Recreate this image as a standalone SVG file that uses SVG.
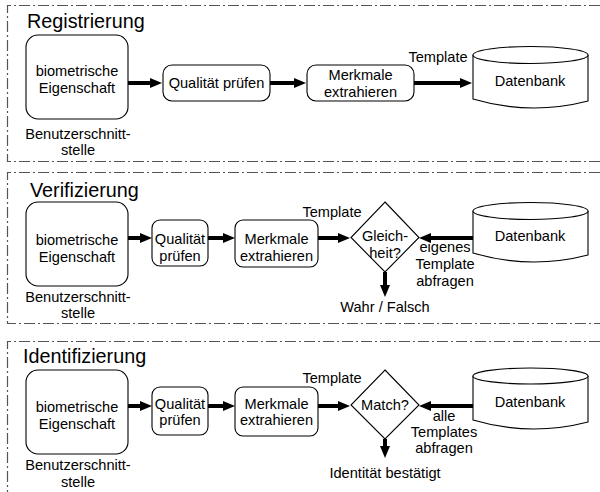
<svg xmlns="http://www.w3.org/2000/svg" width="600" height="492" viewBox="0 0 600 492">
<defs>
<style>
.frame{fill:none;stroke:#555;stroke-width:1.2;stroke-dasharray:11 3 2 3}
.box{fill:#fff;stroke:#000;stroke-width:1.1}
.t{font-family:"Liberation Sans",Arial,sans-serif;font-size:14.6px;fill:#000;text-anchor:middle}
.title{font-family:"Liberation Sans",Arial,sans-serif;font-size:19.8px;fill:#000}
.arr{stroke:#000;stroke-width:4;fill:none}
</style>
<marker id="ah" markerUnits="userSpaceOnUse" markerWidth="13" markerHeight="11" refX="1" refY="5.5" orient="auto">
<path d="M0,0.5 L12,5.5 L0,10.5 z" fill="#000"/>
</marker>
</defs>
<rect width="600" height="492" fill="#fff"/>

<g id="frames">
<path class="frame" d="M600,5.5 H7.5 V161.5 H600"/>
<path class="frame" d="M600,172.5 H7.5 V323.5 H600"/>
<path class="frame" d="M600,341.5 H7.5 V492"/>
</g>

<g id="titles">
<text class="title" x="27" y="28">Registrierung</text>
<text class="title" x="30" y="197">Verifizierung</text>
<text class="title" x="23" y="363">Identifizierung</text>
</g>

<g id="connectors">
<line class="arr" x1="128" y1="83" x2="151" y2="83" marker-end="url(#ah)"/>
<line class="arr" x1="270" y1="83" x2="295" y2="83" marker-end="url(#ah)"/>
<line class="arr" x1="414" y1="83" x2="461" y2="83" marker-end="url(#ah)"/>

<line class="arr" x1="128" y1="238" x2="141" y2="238" marker-end="url(#ah)"/>
<line class="arr" x1="208" y1="238" x2="224" y2="238" marker-end="url(#ah)"/>
<line class="arr" x1="318" y1="238" x2="339" y2="238" marker-end="url(#ah)"/>
<line class="arr" x1="473" y1="238" x2="430" y2="238" marker-end="url(#ah)"/>
<line class="arr" x1="385" y1="272" x2="385" y2="286" marker-end="url(#ah)"/>

<line class="arr" x1="128" y1="406" x2="141" y2="406" marker-end="url(#ah)"/>
<line class="arr" x1="208" y1="406" x2="224" y2="406" marker-end="url(#ah)"/>
<line class="arr" x1="318" y1="406" x2="339" y2="406" marker-end="url(#ah)"/>
<line class="arr" x1="473" y1="406" x2="430" y2="406" marker-end="url(#ah)"/>
<line class="arr" x1="385" y1="439" x2="385" y2="447" marker-end="url(#ah)"/>
</g>

<g id="labels">
<text class="t" x="438" y="62">Template</text>
<text class="t" x="332" y="217">Template</text>
<text class="t" x="385" y="312">Wahr / Falsch</text>
<text class="t" x="445" y="252">eigenes</text>
<text class="t" x="445" y="269">Template</text>
<text class="t" x="445" y="286">abfragen</text>
<text class="t" x="332" y="383">Template</text>
<text class="t" x="385" y="478">Identität bestätigt</text>
<text class="t" x="444" y="421">alle</text>
<text class="t" x="444" y="437">Templates</text>
<text class="t" x="444" y="453">abfragen</text>
</g>

<!-- Registrierung -->
<g id="reg-bio">
<rect class="box" x="26" y="35" width="102" height="84" rx="12"/>
<text class="t" x="77" y="76">biometrische</text>
<text class="t" x="77" y="93">Eigenschaft</text>
<text class="t" x="78" y="139">Benutzerschnitt-</text>
<text class="t" x="78" y="155">stelle</text>
</g>
<g id="reg-qual">
<rect class="box" x="163" y="65" width="107" height="36" rx="9"/>
<text class="t" x="216.5" y="88">Qualität prüfen</text>
</g>
<g id="reg-merk">
<rect class="box" x="307" y="65" width="107" height="36" rx="9"/>
<text class="t" x="360.5" y="80">Merkmale</text>
<text class="t" x="360.5" y="97">extrahieren</text>
</g>
<g id="reg-db">
<path class="box" d="M473,55 V99 Q530,116 588,101 V55"/>
<ellipse class="box" cx="530.5" cy="55" rx="57.5" ry="8.5"/>
<text class="t" x="530" y="86">Datenbank</text>
</g>

<!-- Verifizierung -->
<g id="ver-bio">
<rect class="box" x="26" y="202" width="102" height="84" rx="12"/>
<text class="t" x="77" y="245">biometrische</text>
<text class="t" x="77" y="262">Eigenschaft</text>
<text class="t" x="78" y="302">Benutzerschnitt-</text>
<text class="t" x="78" y="318">stelle</text>
</g>
<g id="ver-qual">
<rect class="box" x="152" y="220" width="56" height="46" rx="8"/>
<text class="t" x="180" y="244">Qualität</text>
<text class="t" x="180" y="261">prüfen</text>
</g>
<g id="ver-merk">
<rect class="box" x="235" y="220" width="83" height="47" rx="8"/>
<text class="t" x="276.5" y="244">Merkmale</text>
<text class="t" x="276.5" y="261">extrahieren</text>
</g>
<g id="ver-dec">
<path class="box" d="M385,202 L419,237.5 L385,272 L351,237.5 z"/>
<text class="t" x="385" y="241">Gleich-</text>
<text class="t" x="385" y="258">heit?</text>
</g>
<g id="ver-db">
<path class="box" d="M473,211 V253 Q530,270 588,255 V211"/>
<ellipse class="box" cx="530.5" cy="211" rx="57.5" ry="8.5"/>
<text class="t" x="530" y="241">Datenbank</text>
</g>

<!-- Identifizierung -->
<g id="id-bio">
<rect class="box" x="26" y="370" width="102" height="84" rx="12"/>
<text class="t" x="77" y="412">biometrische</text>
<text class="t" x="77" y="429">Eigenschaft</text>
<text class="t" x="78" y="470">Benutzerschnitt-</text>
<text class="t" x="78" y="487">stelle</text>
</g>
<g id="id-qual">
<rect class="box" x="152" y="387" width="56" height="48" rx="8"/>
<text class="t" x="180" y="409">Qualität</text>
<text class="t" x="180" y="425">prüfen</text>
</g>
<g id="id-merk">
<rect class="box" x="235" y="387" width="83" height="49" rx="8"/>
<text class="t" x="276.5" y="409">Merkmale</text>
<text class="t" x="276.5" y="425">extrahieren</text>
</g>
<g id="id-dec">
<path class="box" d="M385,370 L419,405 L385,439 L351,405 z"/>
<text class="t" x="385" y="410">Match?</text>
</g>
<g id="id-db">
<path class="box" d="M473,376 V420 Q530,437 588,422 V376"/>
<ellipse class="box" cx="530.5" cy="376" rx="57.5" ry="8"/>
<text class="t" x="530" y="407">Datenbank</text>
</g>
</svg>
